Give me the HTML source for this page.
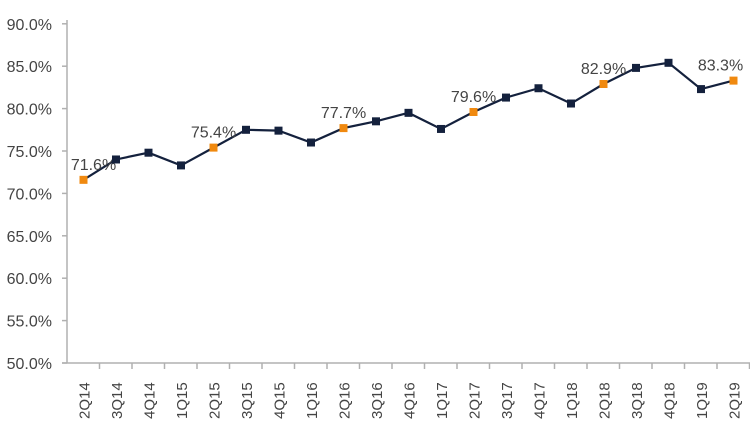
<!DOCTYPE html><html><head><style>body{margin:0;background:#fff}</style></head><body>
<svg width="750" height="424" xmlns="http://www.w3.org/2000/svg" font-family="Liberation Sans, sans-serif">
<g stroke="#b0b0b0" stroke-width="1.5">
<line x1="67" y1="20" x2="67" y2="363"/>
<line x1="62" y1="363" x2="750" y2="363"/>
</g>
<script>
var s=document.querySelector('svg'),NS='http://www.w3.org/2000/svg';
function el(n,a,t){var e=document.createElementNS(NS,n);for(var k in a)e.setAttribute(k,a[k]);if(t)e.textContent=t;s.appendChild(e);return e;}
function Y(v){return 363-(v-50)*8.48;}
for(var v=50;v<=90;v+=5){var y=Y(v);el('line',{x1:62,y1:y,x2:67,y2:y,stroke:'#b0b0b0','stroke-width':1.5});el('text',{x:52,y:y+6,'text-anchor':'end','font-size':16,fill:'#444'},v.toFixed(1)+'%');}
var c=['2Q14','3Q14','4Q14','1Q15','2Q15','3Q15','4Q15','1Q16','2Q16','3Q16','4Q16','1Q17','2Q17','3Q17','4Q17','1Q18','2Q18','3Q18','4Q18','1Q19','2Q19'];
var d=[71.6,74.0,74.8,73.3,75.4,77.5,77.4,76.0,77.7,78.5,79.5,77.6,79.6,81.3,82.4,80.6,82.9,84.8,85.4,82.3,83.3];
var pts=[];
for(var i=0;i<21;i++){var x=83.5+i*32.5;pts.push(x+','+Y(d[i]));
el('line',{x1:67+(i+1)*32.5,y1:363,x2:67+(i+1)*32.5,y2:369,stroke:'#b0b0b0','stroke-width':1.5});
el('text',{transform:'translate('+(x+6)+',419) rotate(-90)','font-size':15,fill:'#444'},c[i]);}
el('polyline',{points:pts.join(' '),fill:'none',stroke:'#14213d','stroke-width':2.2});
for(var i=0;i<21;i++){var x=83.5+i*32.5,y=Y(d[i]),o=(i%4==0);
el('rect',{x:x-4,y:y-4,width:8,height:8,fill:o?'#f0890f':'#14213d'});
if(o)el('text',{x:x+(i==0?10:(i==20?-13:0)),y:y-10,'text-anchor':'middle','font-size':16,fill:'#444'},d[i].toFixed(1)+'%');}
</script>
</svg></body></html>
